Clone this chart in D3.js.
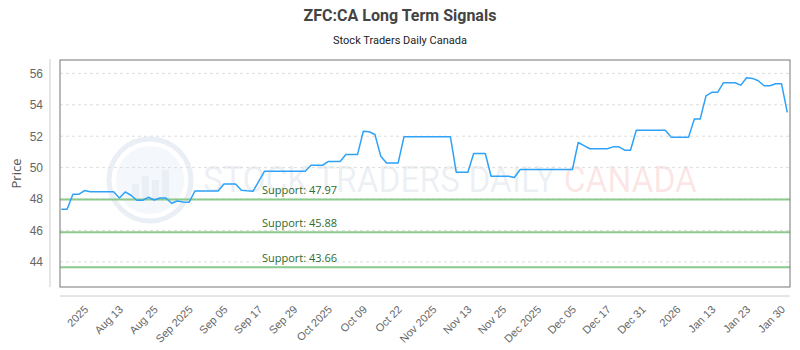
<!DOCTYPE html>
<html>
<head>
<meta charset="utf-8">
<script src="https://cdn.jsdelivr.net/npm/d3@7"></script>
<style>
  body { margin: 0; background: #fff; }
  svg { display: block; font-family: "Open Sans", sans-serif; }
</style>
</head>
<body>
<div id="chart"></div>
<script>
// Closing prices, one per trading session
const prices = [
  47.35, 47.35, 48.30, 48.30, 48.54, 48.47, 48.47, 48.47, 48.47, 48.47,
  48.07, 48.45, 48.24, 47.92, 47.92, 48.11, 47.94, 48.07, 48.07, 47.73,
  47.87, 47.81, 47.79, 48.51, 48.51, 48.51, 48.51, 48.51, 48.96, 48.96,
  48.96, 48.56, 48.52, 48.49, 49.13, 49.77, 49.77, 49.77, 49.77, 49.77,
  49.77, 49.77, 49.77, 50.15, 50.15, 50.15, 50.39, 50.39, 50.39, 50.83,
  50.83, 50.83, 52.32, 52.28, 52.11, 50.73, 50.30, 50.30, 50.30, 51.96,
  51.96, 51.96, 51.96, 51.96, 51.96, 51.96, 51.96, 51.96, 49.71, 49.71,
  49.71, 50.90, 50.90, 50.90, 49.45, 49.45, 49.45, 49.45, 49.37, 49.88,
  49.88, 49.88, 49.88, 49.88, 49.88, 49.88, 49.88, 49.88, 49.88, 51.60,
  51.40, 51.20, 51.20, 51.20, 51.20, 51.32, 51.32, 51.11, 51.11, 52.38,
  52.38, 52.38, 52.38, 52.38, 52.38, 51.94, 51.94, 51.94, 51.94, 53.09,
  53.09, 54.57, 54.79, 54.79, 55.40, 55.40, 55.40, 55.25, 55.72, 55.68,
  55.53, 55.21, 55.21, 55.34, 55.34, 53.51
];

// Tick labels, one every 6 sessions counted back from the last one
const tickLabels = [
  "2025", "Aug 13", "Aug 25", "Sep 2025", "Sep 05", "Sep 17", "Sep 29",
  "Oct 2025", "Oct 09", "Oct 22", "Nov 2025", "Nov 13", "Nov 25",
  "Dec 2025", "Dec 05", "Dec 17", "Dec 31", "2026", "Jan 13", "Jan 23", "Jan 30"
];
const tickStep = 6;

const supports = [47.97, 45.88, 43.66];
const yTicks = [44, 46, 48, 50, 52, 54, 56];

const width = 800, height = 350;
const plot = { left: 60, right: 790, top: 60, bottom: 287 };

const svg = d3.select("#chart").append("svg")
  .attr("width", width)
  .attr("height", height);

const x = d3.scaleLinear()
  .domain([0, prices.length - 1])
  .range([plot.left + 1.3, plot.right - 2.7]);

const y = d3.scaleLinear()
  .domain([42.4, 56.85])
  .range([plot.bottom, plot.top]);

// Title
svg.append("text")
  .attr("x", 400).attr("y", 21)
  .attr("text-anchor", "middle")
  .attr("font-family", "Roboto, sans-serif")
  .attr("font-weight", "bold")
  .attr("font-size", 16)
  .attr("fill", "#444")
  .text("ZFC:CA Long Term Signals");

svg.append("text")
  .attr("x", 400).attr("y", 44)
  .attr("text-anchor", "middle")
  .attr("font-family", "Roboto, sans-serif")
  .attr("font-size", 11)
  .attr("fill", "#222")
  .text("Stock Traders Daily Canada");

// Watermark (logo + one text with two coloured parts)
const wm = svg.append("g").attr("opacity", 0.1);
wm.append("circle")
  .attr("cx", 150).attr("cy", 180).attr("r", 41)
  .attr("fill", "none").attr("stroke", "#3a6fb0").attr("stroke-width", 5);
wm.append("circle")
  .attr("cx", 150).attr("cy", 180).attr("r", 34)
  .attr("fill", "#9dbbe0");
[[-18, 14], [-8, 22], [2, 18], [12, 28]].forEach(([dx, h]) => {
  wm.append("rect")
    .attr("x", 150 + dx).attr("y", 198 - h)
    .attr("width", 7).attr("height", h)
    .attr("fill", "#3a6fb0");
});
const wmText = svg.append("text")
  .attr("x", 203).attr("y", 192)
  .attr("font-family", "Roboto, sans-serif")
  .attr("font-size", 37)
  .attr("textLength", 494)
  .attr("lengthAdjust", "spacingAndGlyphs");
wmText.append("tspan")
  .attr("fill", "#3a5f90")
  .attr("fill-opacity", 0.1)
  .text("STOCK TRADERS DAILY ");
wmText.append("tspan")
  .attr("fill", "#e83030")
  .attr("fill-opacity", 0.13)
  .text("CANADA");

// Grid lines
svg.append("g")
  .selectAll("line")
  .data(yTicks)
  .join("line")
  .attr("x1", plot.left).attr("x2", plot.right)
  .attr("y1", d => y(d)).attr("y2", d => y(d))
  .attr("stroke", "#ddd")
  .attr("stroke-dasharray", "3,3");

// Y axis
const yAxis = svg.append("g")
  .attr("transform", `translate(50,0)`)
  .call(d3.axisLeft(y).tickValues(yTicks).tickSize(0).tickPadding(7));
yAxis.select(".domain")
  .attr("d", `M0,${plot.top - 1}V${plot.bottom}`)
  .attr("stroke", "#ccc");
yAxis.selectAll("text")
  .attr("font-size", 12)
  .attr("fill", "#666");

svg.append("text")
  .attr("transform", `translate(21,${(plot.top + plot.bottom) / 2}) rotate(-90)`)
  .attr("text-anchor", "middle")
  .attr("font-size", 13)
  .attr("fill", "#555")
  .text("Price");

// X axis
const tickIdx = d3.range(prices.length - 1, -1, -tickStep).reverse();
const xAxis = svg.append("g")
  .attr("transform", `translate(0,296)`)
  .call(d3.axisBottom(x)
    .tickValues(tickIdx)
    .tickFormat((d, i) => tickLabels[i])
    .tickSize(0));
xAxis.select(".domain")
  .attr("d", `M${plot.left},0H${plot.right}`)
  .attr("stroke", "#ccc");
xAxis.selectAll("text")
  .attr("font-size", 11)
  .attr("fill", "#666")
  .attr("text-anchor", "end")
  .attr("dy", 0)
  .attr("transform", "translate(-4,12) rotate(-45)");

// Support lines
const sup = svg.append("g");
sup.selectAll("line")
  .data(supports)
  .join("line")
  .attr("x1", plot.left).attr("x2", plot.right)
  .attr("y1", d => y(d)).attr("y2", d => y(d))
  .attr("stroke", "#8cc98c")
  .attr("stroke-width", 2);
sup.selectAll("text")
  .data(supports)
  .join("text")
  .attr("x", 262)
  .attr("y", d => y(d) - 5)
  .attr("font-size", 11)
  .attr("fill", "#2e6b2e")
  .text(d => `Support: ${d.toFixed(2)}`);

// Price line
const line = d3.line()
  .x((d, i) => x(i))
  .y(d => y(d));

svg.append("path")
  .datum(prices)
  .attr("d", line)
  .attr("fill", "none")
  .attr("stroke", "#2ea1f8")
  .attr("stroke-width", 1.5)
  .attr("stroke-linejoin", "round");

// Plot frame
svg.append("rect")
  .attr("x", plot.left).attr("y", plot.top)
  .attr("width", plot.right - plot.left)
  .attr("height", plot.bottom - plot.top)
  .attr("fill", "none")
  .attr("stroke", "#777")
  .attr("stroke-width", 1);
</script>
</body>
</html>
